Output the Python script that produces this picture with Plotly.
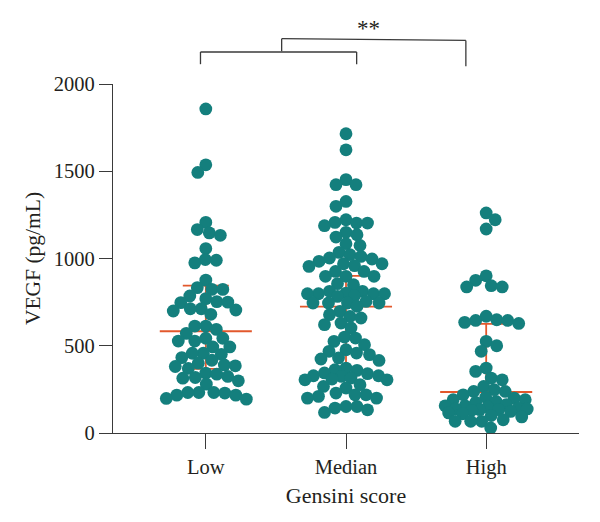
import numpy as np
import plotly.graph_objects as go

# ---------------- data ----------------
categories = ["Low", "Median", "High"]

low_values = [1857, 1537, 1493, 1207, 1166, 1147, 1133, 1057, 994, 990, 975,
              876, 833, 823, 823, 785, 770, 753, 750, 747, 712, 712, 705, 699,
              680, 613, 613, 594, 571, 543, 543, 527, 527, 493, 493, 457, 457,
              451, 432, 417, 400, 390, 385, 381, 370, 343, 337, 324, 318, 314,
              299, 280, 232, 232, 232, 229, 217, 217, 198, 194]

median_values = [1715, 1623, 1452, 1423, 1423, 1327, 1299, 1222, 1207, 1203,
                 1203, 1188, 1150, 1136, 1123, 1085, 1075, 1035, 1022, 1012,
                 1003, 997, 984, 970, 970, 959, 955, 926, 926, 898, 898, 898,
                 856, 850, 812, 812, 802, 798, 798, 798, 798, 787, 783, 754,
                 745, 745, 745, 745, 726, 697, 678, 668, 659, 630, 621, 602,
                 550, 544, 525, 506, 477, 468, 458, 449, 430, 424, 416, 372,
                 363, 359, 344, 340, 328, 328, 324, 315, 309, 305, 305, 277,
                 267, 258, 229, 219, 219, 210, 200, 200, 152, 152, 143, 133, 118]

high_values = [1261, 1222, 1169, 901, 875, 844, 837, 837, 669, 649, 645, 645,
               634, 628, 525, 500, 468, 372, 353, 315, 305, 267, 248, 238, 238,
               219, 205, 200, 191, 191, 181, 175, 162, 156, 156, 149, 143, 138,
               138, 134, 134, 130, 124, 115, 110, 100, 92, 76, 67, 67, 67, 29]

group_medians = [583, 724, 235]
group_q1 = [367, 345, 130]
group_q3 = [844, 900, 625]

y_ticks = [0, 500, 1000, 1500, 2000]
y_title = "VEGF (pg/mL)"
x_title = "Gensini score"
significance_label = "**"

# ---------------- layout constants ----------------
W, H = 600, 522
M_L, M_R, M_T, M_B = 113.3, 21, 84.3, 88.7
X_RANGE = [0.338, 3.662]
Y_RANGE = [0, 2000]
PX_X = (W - M_L - M_R) / (X_RANGE[1] - X_RANGE[0])
PX_Y = (H - M_T - M_B) / (Y_RANGE[1] - Y_RANGE[0])

TEAL = "#147f7d"
ORANGE = "#e2582c"
AXIS = "#3a3a3a"
TEXT = "#231f20"
FONT = "Liberation Serif"
DOT = 12.8


def swarm(values, diameter=11.0, half_width=41.0, step=0.5):
    """Deterministic beeswarm: returns horizontal pixel offsets."""
    vals = np.asarray(values, dtype=float)
    order = np.argsort(-vals, kind="stable")
    cand = np.arange(-half_width, half_width + step / 2, step)
    placed_x, placed_y = [], []
    offsets = np.zeros(len(vals))
    flip = 1
    for idx in order:
        y = vals[idx] * PX_Y
        if placed_x:
            px = np.array(placed_x)
            py = np.array(placed_y)
            dy = np.abs(py - y)
            near = dy < diameter
            if near.any():
                dx = cand[:, None] - px[near][None, :]
                d = np.sqrt(dx ** 2 + dy[near][None, :] ** 2)
                overlap = np.clip(diameter - d, 0, None).max(axis=1)
            else:
                overlap = np.zeros(len(cand))
        else:
            overlap = np.zeros(len(cand))
        score = np.round(overlap, 3) * 1000 + np.abs(cand) + flip * cand * 1e-4
        best = cand[int(np.argmin(score))]
        flip = -flip
        offsets[idx] = best
        placed_x.append(best)
        placed_y.append(y)
    return offsets


def to_paper_x(xd):
    return (xd - X_RANGE[0]) / (X_RANGE[1] - X_RANGE[0])


def px_to_paper_y(py):
    return (H - M_B - py) / (H - M_T - M_B)


groups = [low_values, median_values, high_values]

fig = go.Figure()

# median + interquartile bars (behind the dots)
lx, ly = [], []
med_hw = 46 / PX_X
cap_hw = 23 / PX_X
for i, (m, q1, q3) in enumerate(zip(group_medians, group_q1, group_q3)):
    c = i + 1
    lx += [c - med_hw, c + med_hw, None, c, c, None,
           c - cap_hw, c + cap_hw, None, c - cap_hw, c + cap_hw, None]
    ly += [m, m, None, q1, q3, None, q1, q1, None, q3, q3, None]
fig.add_trace(go.Scatter(x=lx, y=ly, mode="lines",
                         line=dict(color=ORANGE, width=1.8),
                         hoverinfo="skip", showlegend=False))

for i, vals in enumerate(groups):
    offs = swarm(vals)
    fig.add_trace(go.Scatter(
        x=(i + 1) + offs / PX_X, y=vals, mode="markers",
        marker=dict(size=DOT, color=TEAL, line=dict(width=0)),
        name=categories[i], showlegend=False))

# significance brackets
line_style = dict(color=AXIS, width=1.3)
shapes = []
def seg(x0, y0, x1, y1):
    shapes.append(dict(type="line", xref="paper", yref="paper",
                       x0=to_paper_x(x0), x1=to_paper_x(x1),
                       y0=px_to_paper_y(y0), y1=px_to_paper_y(y1),
                       line=line_style))

# lower bracket (Low - Median)
seg(0.962, 52.3, 2.076, 52.3)
seg(0.962, 52.3, 0.962, 64.5)
seg(2.076, 52.3, 2.076, 64.5)
# upper bracket (combined - High)
seg(1.541, 39.0, 2.855, 40.7)
seg(1.541, 39.0, 1.541, 51.5)
seg(2.855, 40.7, 2.855, 66.5)

fig.update_layout(
    width=W, height=H,
    margin=dict(l=M_L, r=M_R, t=M_T, b=M_B, pad=0),
    paper_bgcolor="white", plot_bgcolor="white",
    font=dict(family=FONT, size=20.5, color=TEXT),
    shapes=shapes,
    annotations=[dict(text=significance_label, xref="paper", yref="paper",
                      x=to_paper_x(2.157), y=px_to_paper_y(28.5),
                      showarrow=False, font=dict(size=23, color=TEXT),
                      xanchor="center", yanchor="middle")],
    xaxis=dict(range=X_RANGE, tickvals=[1, 2, 3], ticktext=categories,
               showgrid=False, zeroline=False, showline=True,
               linecolor=AXIS, linewidth=1.3, ticks="outside", ticklen=15,
               tickwidth=1.3, tickcolor=AXIS, tickfont=dict(size=20.5),
               title=dict(text=x_title, standoff=9,
                          font=dict(size=22, family=FONT, color=TEXT))),
    yaxis=dict(range=Y_RANGE, tickvals=y_ticks, showgrid=False,
               zeroline=False, showline=True, linecolor=AXIS, linewidth=1.3,
               ticks="outside", ticklen=13, tickwidth=1.3, tickcolor=AXIS,
               tickfont=dict(size=20.5),
               title=dict(text=y_title, standoff=7,
                          font=dict(size=21.5, family=FONT, color=TEXT))),
)

fig.write_html("out.html",
               config={"displayModeBar": False},
               post_script="document.body.style.margin='0';"
                           "document.body.style.padding='0';")
